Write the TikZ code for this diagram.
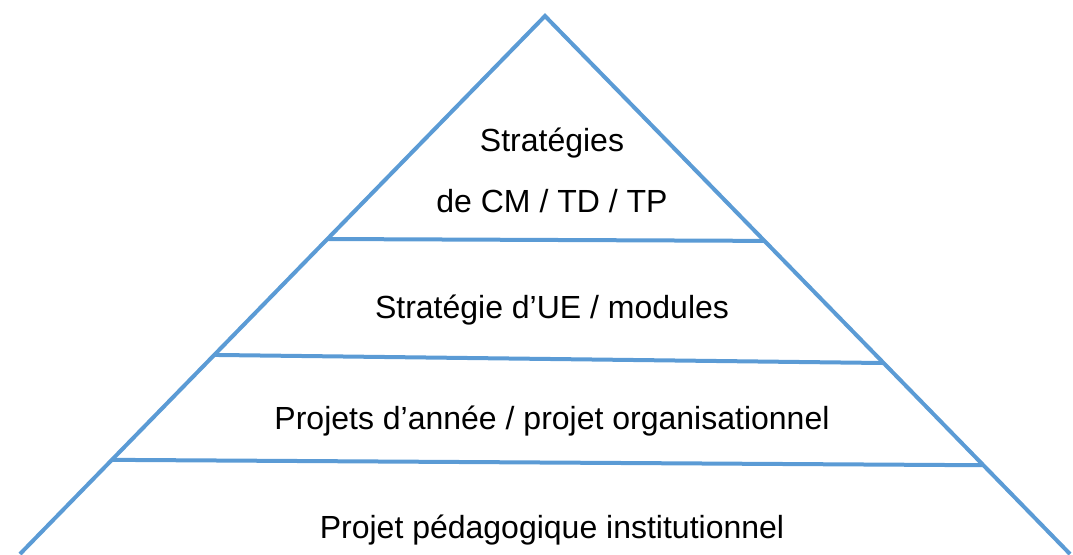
\documentclass[tikz,border=0pt]{standalone}
\usepackage{fontspec}
\setmainfont{Liberation Sans}
\usepackage{tikz}
\usetikzlibrary{calc}
\definecolor{pyrblue}{RGB}{91,155,213}

\begin{document}
\begin{tikzpicture}[x=1pt,y=-1pt]
\tikzset{tier line/.style={ %
		draw=pyrblue,
		line width=4pt %
	},
	tier text/.style={ %
		font=\fontsize{32}{38}\selectfont,
		inner sep=0pt %
	}
}
\useasboundingbox (0,0) rectangle (1073,554);
\coordinate (apex) at (545,16);
\coordinate (bl) at (20,554);
\coordinate (br) at (1070,554);
\draw[tier line] (bl) -- (apex) -- (br);
\coordinate (l1) at ($(apex)!0.4145!(bl)$);
\coordinate (r1) at ($(apex)!0.418!(br)$);
\coordinate (l2) at ($(apex)!0.630!(bl)$);
\coordinate (r2) at ($(apex)!0.645!(br)$);
\coordinate (l3) at ($(apex)!0.825!(bl)$);
\coordinate (r3) at ($(apex)!0.835!(br)$);
\draw[tier line] (l1) -- (r1);
\draw[tier line] (l2) -- (r2);
\draw[tier line] (l3) -- (r3);
\node[tier text] (top1) at (552,143) {Stratégies};
\node[tier text] (top2) at (552,201) {de CM / TD / TP};
\node[tier text] (ue) at (552,310) {Stratégie d’UE / modules};
\node[tier text] (annee) at (552,421) {Projets d’année / projet organisationnel};
\node[tier text] (inst) at (552,530) {Projet pédagogique institutionnel};
\end{tikzpicture}
\end{document}
